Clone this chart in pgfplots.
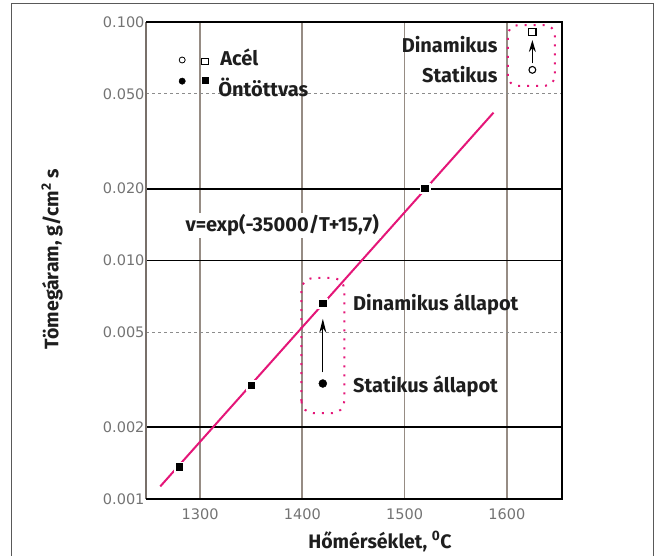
\documentclass[border=0pt]{standalone}
\usepackage{fontspec}
\setmainfont{Fira Sans}
\newfontfamily\tickfont{DejaVu Sans}
\usepackage{pgfplots}
\pgfplotsset{compat=1.18}
\usetikzlibrary{arrows.meta}
\definecolor{fitpink}{RGB}{228,22,120}
\definecolor{gridbrown}{RGB}{150,140,132}
\definecolor{txt}{RGB}{30,30,30}
\newcommand{\lbl}{\fontsize{20}{22}\selectfont\bfseries}
\newcommand{\ttl}{\fontsize{19.5}{22}\selectfont\bfseries}

\begin{document}
\begin{tikzpicture}[x=1pt,y=1pt]
\begin{axis}[
  at={(0,0)}, anchor=south west,
  width=416pt, height=477pt, scale only axis,
  xmin=1247, xmax=1654, ymin=0.001, ymax=0.1, ymode=log,
  axis line style={draw=none},
  xtick={1300,1400,1500,1600},
  xticklabels={1300,1400,1500,1600},
  ytick={0.001,0.002,0.005,0.01,0.02,0.05,0.1},
  yticklabels={0.001,0.002,0.005,0.010,0.020,0.050,0.100},
  yminorticks=false,
  major tick length=0pt,
  /pgf/number format/assume math mode=true,
  tick label style={font=\tickfont\fontsize{14.5}{15}\selectfont, text=black!55},
  yticklabel style={xshift=2pt},
  xticklabel style={yshift=-6pt},
  clip=false,
]
% grid
\draw[gridbrown, line width=1.8pt] (axis cs:1300,0.001) -- (axis cs:1300,0.1);
\draw[gridbrown, line width=1.8pt] (axis cs:1400,0.001) -- (axis cs:1400,0.1);
\draw[gridbrown, line width=1.8pt] (axis cs:1500,0.001) -- (axis cs:1500,0.1);
\draw[gridbrown, line width=1.8pt] (axis cs:1600,0.001) -- (axis cs:1600,0.1);
\draw[black!45, line width=0.8pt, dash pattern=on 3pt off 3pt] (axis cs:1247,0.05) -- (axis cs:1654,0.05);
\draw[black!45, line width=0.8pt, dash pattern=on 3pt off 3pt] (axis cs:1247,0.005) -- (axis cs:1654,0.005);
\draw[black, line width=1.6pt] (axis cs:1247,0.02) -- (axis cs:1654,0.02);
\draw[black, line width=1.6pt] (axis cs:1247,0.01) -- (axis cs:1654,0.01);
\draw[black, line width=1.6pt] (axis cs:1247,0.002) -- (axis cs:1654,0.002);
% frame of the plot area
\draw[gridbrown!80!black, line width=2.5pt] (rel axis cs:0,0) -- (rel axis cs:0,1);
\draw[black, line width=2.5pt] (rel axis cs:0,1) -- (rel axis cs:1,1) -- (rel axis cs:1,0) -- (rel axis cs:0,0);

% fitted curve v = exp(-35000/T + 15.7)
\addplot[fitpink, line width=2pt] coordinates {(1261,0.00113) (1587,0.0417)};

% highlighted groups
\draw[fitpink, line width=2pt, dash pattern=on 2pt off 7pt, rounded corners=12pt]
  (axis cs:1399,0.00229) rectangle (axis cs:1441,0.00845);
\draw[fitpink, line width=2pt, dash pattern=on 2pt off 7pt, rounded corners=10pt]
  (axis cs:1601,0.054) rectangle (axis cs:1647,0.097);

% arrows static -> dynamic
\draw[-{Stealth[length=14pt,width=7pt]}, line width=1.2pt] (axis cs:1420,0.0034) -- (axis cs:1420,0.0057);
\draw[-{Stealth[length=12pt,width=7pt]}, line width=1.2pt] (axis cs:1625,0.067) -- (axis cs:1625,0.084);

% cast iron, dynamic
\addplot[only marks, mark=square*, mark size=4.6pt, black,
  mark options={draw=white, line width=1.8pt, fill=black}] coordinates {(1280,0.00136) (1350,0.003) (1420,0.0066) (1520,0.02)};
% cast iron, static
\addplot[only marks, mark=*, mark size=4pt, black] coordinates {(1420,0.00305)};
% steel, dynamic / static
\addplot[only marks, mark=square, mark size=3.6pt, black, line width=1.1pt, fill=white] coordinates {(1625,0.091)};
\addplot[only marks, mark=o, mark size=3.4pt, black, line width=1.1pt, fill=white] coordinates {(1625,0.063)};

% legend glyphs
\addplot[only marks, mark=o, mark size=3pt, black, line width=0.8pt] coordinates {(1282.4,0.0693)};
\addplot[only marks, mark=square, mark size=3.2pt, black, line width=1pt] coordinates {(1304.9,0.0685)};
\addplot[only marks, mark=*, mark size=3.2pt, black] coordinates {(1282.4,0.0565)};
\addplot[only marks, mark=square*, mark size=3pt, black] coordinates {(1304.9,0.0572)};

% texts
\node[anchor=base west, inner sep=0pt, text=txt, font=\lbl] at (axis cs:1319.5,0.066) {Acél};
\node[anchor=base west, inner sep=0pt, text=txt, font=\lbl] at (axis cs:1317.6,0.0485) {Öntöttvas};
\node[anchor=base east, inner sep=0pt, text=txt, font=\lbl] at (axis cs:1591,0.0746) {Dinamikus};
\node[anchor=base east, inner sep=0pt, text=txt, font=\lbl] at (axis cs:1591,0.0557) {Statikus};
\node[anchor=base west, inner sep=2pt, fill=white, text=txt, font=\lbl] at (axis cs:1283.5,0.01317) {v=exp(-35000/T+15,7)};
\node[anchor=base west, inner sep=0pt, text=txt, font=\lbl] at (axis cs:1449.5,0.00616) {Dinamikus állapot};
\node[anchor=base west, inner sep=0pt, text=txt, font=\lbl] at (axis cs:1449.5,0.0028) {Statikus állapot};

% axis titles
\node[anchor=base, inner sep=0pt, text=txt, font=\ttl] at ([yshift=-49pt]rel axis cs:0.5625,0) {Hőmérséklet, \textsuperscript{0}C};
\node[rotate=90, anchor=center, inner sep=0pt, text=txt, font=\ttl] at ([xshift=-94pt]rel axis cs:0,0.503) {Tömegáram, g/cm\textsuperscript{2} s};
\end{axis}
\draw[black!65, line width=1pt] (-134,-60) rectangle (507,495);
\pgfresetboundingbox
\useasboundingbox (-146,-56) rectangle (509,499);
\end{tikzpicture}
\end{document}
